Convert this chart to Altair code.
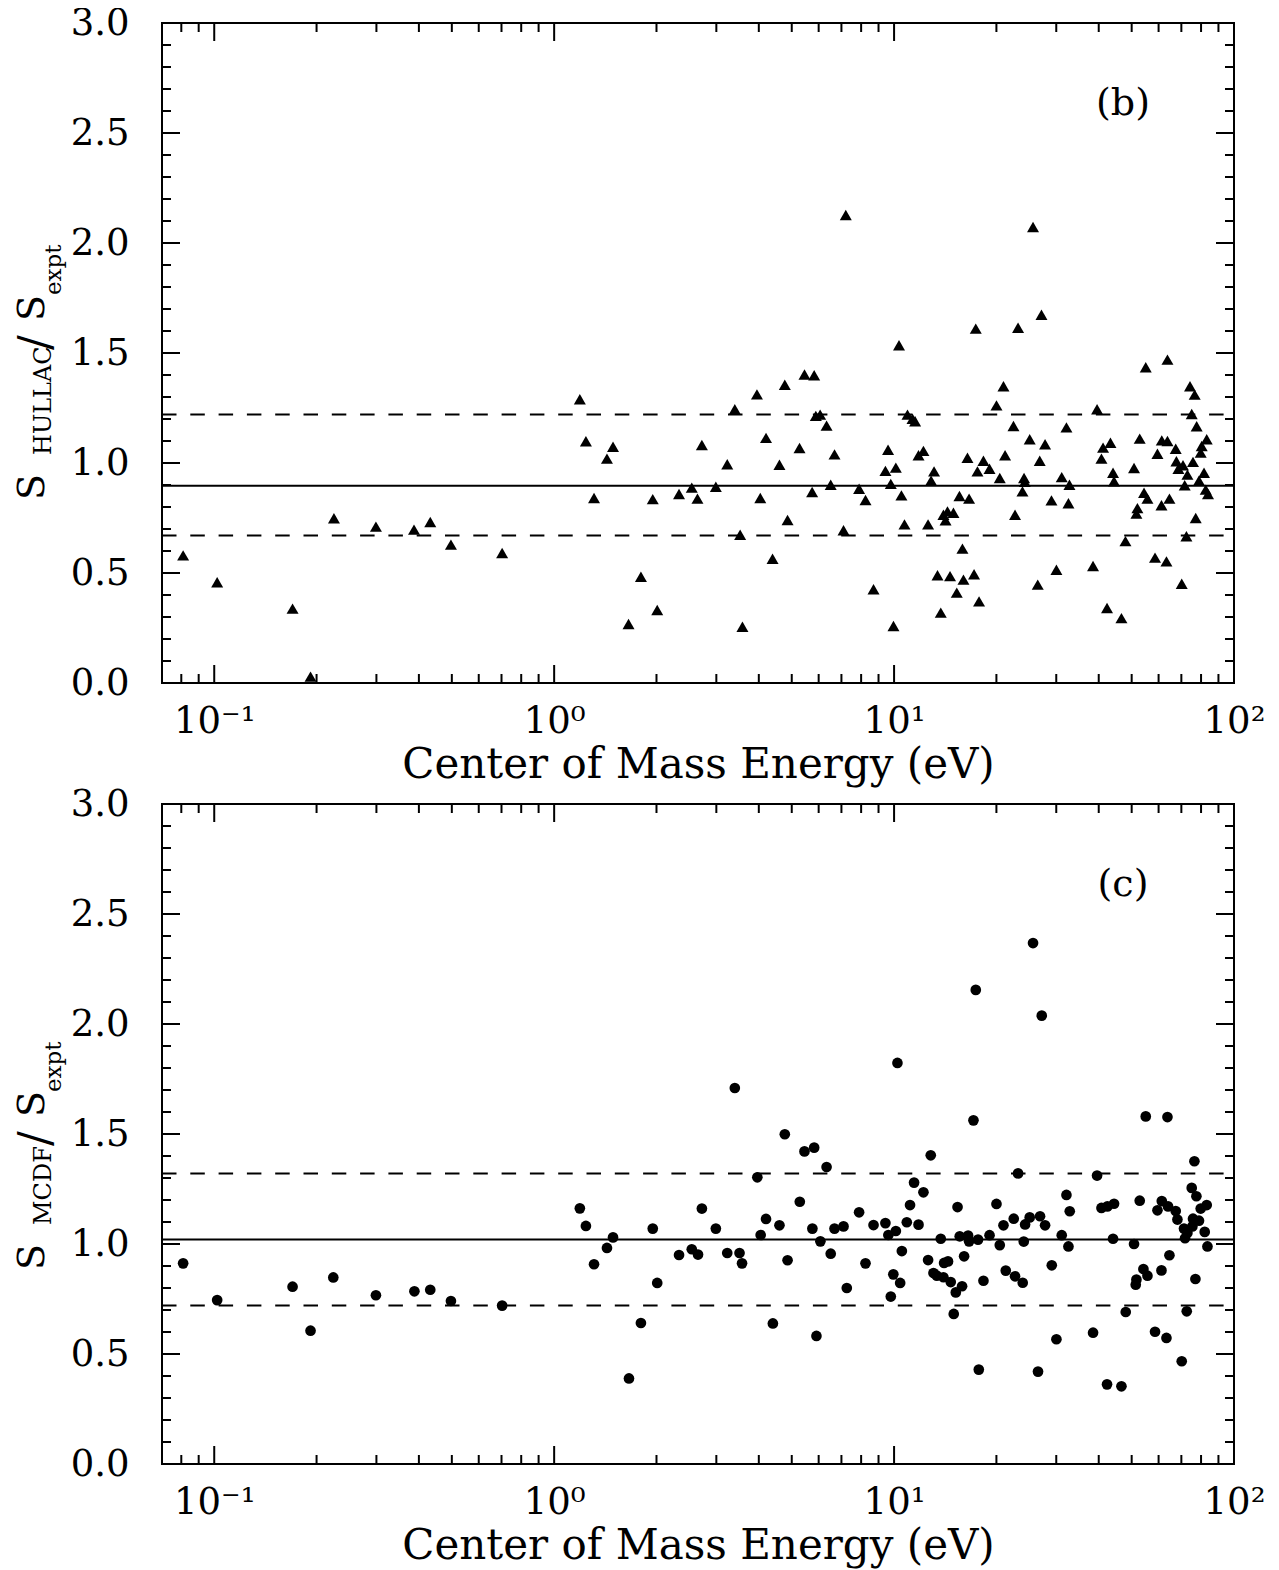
import altair as alt
import pandas as pd

FONT = "DejaVu Serif"

# ---------------- data ----------------
# Panel (b): S_HULLAC / S_expt  (energy in eV, ratio)
E_HULLAC = [
    0.081, 0.102, 0.170, 0.192, 0.225, 0.299, 0.387, 0.432, 0.497, 0.703,
    1.19, 1.24, 1.49, 1.43, 1.31, 1.80, 1.655, 2.01, 1.95, 2.33,
    2.54, 2.64, 2.72, 2.99, 3.23, 3.40, 3.525, 3.58, 3.95, 4.04,
    4.20, 4.39, 4.60, 4.77, 4.86, 5.27, 5.45, 5.82, 5.74, 5.885,
    6.06, 6.33, 6.51, 6.68, 7.10, 7.21, 7.89, 8.24, 8.70, 9.60,
    9.43, 10.12, 9.78, 9.96,
    25.63, 10.34, 17.39, 23.16, 27.14, 55.0, 63.71, 20.98, 20.01, 74.23,
    76.62, 10.95, 11.33, 11.53, 39.55, 75.09, 22.45, 32.14, 77.66, 25.06,
    27.81, 52.8, 61.31, 63.71, 83.12, 11.8, 12.2, 16.44, 18.32, 21.21,
    26.82, 41.19, 43.3, 40.74, 67.38, 80.35, 79.81, 59.54, 10.51, 13.11,
    12.85, 17.59, 19.09, 20.46, 24.12, 24.24, 23.86, 31.13, 32.8, 29.04,
    32.58, 44.07, 44.37, 50.8, 54.37, 55.64, 51.98, 51.63, 61.18, 64.57,
    67.7, 70.79, 68.62, 72.94, 75.75, 81.62, 71.61, 78.89, 82.56, 83.85,
    77.15, 72.44, 15.57, 16.62, 13.97, 14.36, 14.95, 14.17, 22.69, 10.73,
    12.59, 15.89, 47.93, 13.42, 14.61, 16.0, 17.19, 15.29, 17.78, 13.72,
    26.46, 30.03, 38.49, 58.57, 63.28, 70.18, 42.31, 46.65,
]
R_HULLAC = [
    0.580, 0.458, 0.338, 0.029, 0.749, 0.711, 0.697, 0.732, 0.629, 0.591,
    1.290, 1.099, 1.074, 1.020, 0.841, 0.483, 0.268, 0.332, 0.836, 0.859,
    0.888, 0.838, 1.082, 0.892, 0.994, 1.244, 0.674, 0.256, 1.312, 0.841,
    1.114, 0.565, 0.992, 1.356, 0.741, 1.068, 1.402, 1.399, 0.868, 1.214,
    1.220, 1.170, 0.901, 1.039, 0.694, 2.127, 0.883, 0.832, 0.426, 1.060,
    0.964, 0.979, 0.905, 0.259,
    2.073, 1.535, 1.611, 1.615, 1.674, 1.435, 1.470, 1.349, 1.262, 1.349,
    1.311, 1.220, 1.201, 1.190, 1.244, 1.223, 1.168, 1.162, 1.167, 1.108,
    1.085, 1.111, 1.103, 1.100, 1.108, 1.035, 1.055, 1.024, 1.010, 1.035,
    1.010, 1.070, 1.092, 1.020, 1.065, 1.077, 1.047, 1.042, 0.853, 0.962,
    0.920, 0.962, 0.974, 0.932, 0.932, 0.914, 0.871, 0.936, 0.901, 0.830,
    0.817, 0.956, 0.917, 0.977, 0.865, 0.838, 0.795, 0.770, 0.808, 0.838,
    1.008, 0.990, 0.974, 0.947, 1.005, 0.956, 0.899, 0.920, 0.879, 0.859,
    0.750, 0.667, 0.850, 0.838, 0.765, 0.780, 0.774, 0.740, 0.765, 0.721,
    0.721, 0.611, 0.645, 0.490, 0.486, 0.470, 0.494, 0.411, 0.371, 0.320,
    0.447, 0.515, 0.532, 0.570, 0.553, 0.451, 0.341, 0.295,
]

# Panel (c): S_MCDF / S_expt
E_MCDF = [
    0.081, 0.102, 0.170, 0.192, 0.224, 0.299, 0.388, 0.432, 0.497, 0.703,
    1.19, 1.24, 1.49, 1.43, 1.31, 1.80, 1.66, 2.01, 1.95, 2.33,
    2.54, 2.65, 2.72, 2.99, 3.23, 3.40, 3.51, 3.57, 3.96, 4.05,
    4.20, 4.40, 4.60, 4.77, 4.86, 5.28, 5.45, 5.82, 5.75, 5.91,
    6.07, 6.33, 6.51, 6.68, 7.10, 7.26, 7.89, 8.24, 8.70, 9.43,
    9.62, 10.12, 9.95, 9.78, 10.42, 10.54, 10.23,
    17.12, 12.82, 55.0, 63.71, 76.47, 23.16, 39.55, 11.45, 12.2, 75.09,
    77.51, 32.14, 11.14, 15.37, 20.01, 32.87, 40.74, 42.42, 44.37, 52.8,
    59.54, 61.31, 63.97, 67.38, 79.81, 83.12, 68.16, 75.75, 78.89, 10.9,
    11.8, 20.98, 22.49, 24.29, 25.06, 26.88, 27.81, 13.72, 15.6, 16.51,
    16.62, 17.66, 19.09, 20.46, 24.07, 31.13, 32.58, 44.07, 50.8, 71.27,
    72.94, 71.76, 75.44, 82.0, 83.53, 12.59, 14.03, 14.41, 16.07, 13.06,
    13.36, 13.97, 14.68, 15.19, 15.85, 18.32, 21.31, 22.69, 23.9, 29.1,
    14.98, 17.75, 26.51, 30.03, 38.49, 42.31, 46.65, 48.03, 54.14, 55.64,
    51.63, 51.39, 61.18, 64.57, 58.57, 63.28, 70.18, 72.61, 77.0,
    25.63, 17.39, 27.19,
]
R_MCDF = [
    0.912, 0.745, 0.806, 0.606, 0.848, 0.767, 0.785, 0.792, 0.741, 0.720,
    1.162, 1.082, 1.030, 0.982, 0.908, 0.641, 0.389, 0.823, 1.070, 0.950,
    0.976, 0.952, 1.161, 1.070, 0.959, 1.709, 0.959, 0.912, 1.303, 1.041,
    1.114, 0.639, 1.085, 1.499, 0.926, 1.192, 1.421, 1.438, 1.070, 0.582,
    1.012, 1.350, 0.956, 1.070, 1.080, 0.800, 1.144, 0.912, 1.086, 1.095,
    1.041, 1.059, 0.862, 0.761, 0.823, 0.968, 1.823,
    1.562, 1.403, 1.580, 1.577, 1.376, 1.321, 1.311, 1.279, 1.235, 1.255,
    1.217, 1.223, 1.177, 1.168, 1.182, 1.149, 1.164, 1.171, 1.183, 1.197,
    1.153, 1.195, 1.171, 1.150, 1.161, 1.177, 1.111, 1.115, 1.106, 1.099,
    1.088, 1.085, 1.115, 1.089, 1.121, 1.126, 1.085, 1.024, 1.035, 1.038,
    1.012, 1.020, 1.040, 0.995, 1.011, 1.040, 0.989, 1.024, 1.000, 1.070,
    1.050, 1.026, 1.080, 1.055, 0.989, 0.927, 0.914, 0.921, 0.944, 0.868,
    0.856, 0.849, 0.827, 0.780, 0.808, 0.833, 0.879, 0.853, 0.824, 0.903,
    0.682, 0.429, 0.420, 0.567, 0.597, 0.362, 0.353, 0.691, 0.886, 0.856,
    0.838, 0.815, 0.880, 0.949, 0.601, 0.573, 0.467, 0.694, 0.841,
    2.368, 2.155, 2.038,
]

# reference lines (mean, upper, lower)
LINES_HULLAC = [0.897, 1.221, 0.670]
LINES_MCDF = [1.021, 1.321, 0.720]

# axis ticks / labels
X_MAJOR = [0.1, 1, 10, 100]
X_MINOR = [0.08, 0.09, 0.2, 0.3, 0.4, 0.5, 0.6, 0.7, 0.8, 0.9,
           2, 3, 4, 5, 6, 7, 8, 9, 20, 30, 40, 50, 60, 70, 80, 90]
Y_MAJOR = [0.0, 0.5, 1.0, 1.5, 2.0, 2.5, 3.0]
Y_MINOR = [0.1, 0.2, 0.3, 0.4, 0.6, 0.7, 0.8, 0.9, 1.1, 1.2, 1.3, 1.4,
           1.6, 1.7, 1.8, 1.9, 2.1, 2.2, 2.3, 2.4, 2.6, 2.7, 2.8, 2.9]
X_LABEL_EXPR = ("datum.value < 0.5 ? '10\u207b\u00b9' : datum.value < 5 ? '10\u2070' : "
                "datum.value < 50 ? '10\u00b9' : '10\u00b2'")
X_TITLE = "Center of Mass Energy (eV)"

assert len(E_HULLAC) == len(R_HULLAC)
assert len(E_MCDF) == len(R_MCDF)

W, H = 1072, 660


def text_layer(s, x, y, fs, angle=270, align="left", baseline="alphabetic"):
    return alt.Chart(pd.DataFrame({"t": [s]})).mark_text(
        font=FONT, fontSize=fs, angle=angle, align=align, baseline=baseline, color="black"
    ).encode(text="t:N", x=alt.value(x), y=alt.value(y))


def panel(E, R, shape, size, lines, title_parts, tag):
    xs = alt.Scale(type="log", domain=[0.0702, 100], nice=False)
    ys = alt.Scale(domain=[0, 3], nice=False, zero=False)
    xaxis = alt.Axis(values=X_MAJOR, labelExpr=X_LABEL_EXPR, ticks=False, tickSize=0,
                     domain=False, grid=False, labelFont=FONT, labelFontSize=37,
                     labelColor="black", labelPadding=20, labelFlush=False,
                     labelOverlap=False, labelBound=False, title=X_TITLE, titleFont=FONT,
                     titleFontSize=42, titleFontWeight="normal", titleColor="black",
                     titlePadding=5)
    yaxis = alt.Axis(values=Y_MAJOR, format=".1f", ticks=False, tickSize=0, domain=False,
                     grid=False, labelFont=FONT, labelFontSize=37, labelColor="black",
                     labelPadding=33, labelOverlap=False, title=None)
    X = alt.X("E:Q", scale=xs, axis=xaxis)
    Y = alt.Y("R:Q", scale=ys, axis=yaxis)

    layers = []
    # points
    layers.append(alt.Chart(pd.DataFrame({"E": E, "R": R})).mark_point(
        shape=shape, filled=True, size=size, color="black", opacity=1, strokeWidth=0
    ).encode(x=X, y=Y))
    # mean line and dashed band
    layers.append(alt.Chart(pd.DataFrame({"R": lines[:1]})).mark_rule(
        color="black", strokeWidth=2).encode(y=Y, x=alt.value(0), x2=alt.value(W)))
    layers.append(alt.Chart(pd.DataFrame({"R": lines[1:]})).mark_rule(
        color="black", strokeWidth=2, strokeDash=[14.5, 13.8]
    ).encode(y=Y, x=alt.value(0), x2=alt.value(W)))
    # inward ticks on all four sides
    for vals, L in ((X_MAJOR, 18), (X_MINOR, 9)):
        d = pd.DataFrame({"E": vals})
        layers.append(alt.Chart(d).mark_rule(color="black", strokeWidth=2).encode(
            x=X, y=alt.value(H), y2=alt.value(H - L)))
        layers.append(alt.Chart(d).mark_rule(color="black", strokeWidth=2).encode(
            x=X, y=alt.value(0), y2=alt.value(L)))
    for vals, L in ((Y_MAJOR, 18), (Y_MINOR, 9)):
        d = pd.DataFrame({"R": vals})
        layers.append(alt.Chart(d).mark_rule(color="black", strokeWidth=2).encode(
            y=Y, x=alt.value(0), x2=alt.value(L)))
        layers.append(alt.Chart(d).mark_rule(color="black", strokeWidth=2).encode(
            y=Y, x=alt.value(W), x2=alt.value(W - L)))
    # y-axis title built from pieces (with subscripts)
    for s, x, y, fs in title_parts:
        layers.append(text_layer(s, x, y, fs))
    # panel tag
    layers.append(text_layer(tag, 961, 81, 38, angle=0, align="center", baseline="middle"))
    return alt.layer(*layers).properties(width=W, height=H)


TITLE_B = [("S", -118, 477, 38), ("HULLAC", -111, 432, 24), ("/", -112, 327, 44),
           ("S", -118, 298, 38), ("expt", -101, 272, 23)]
TITLE_C = [("S", -118, 466, 38), ("MCDF", -111, 421, 24), ("/", -112, 342, 44),
           ("S", -118, 313, 38), ("expt", -101, 288, 23)]

top = panel(E_HULLAC, R_HULLAC, "triangle-up", 144, LINES_HULLAC, TITLE_B, "(b)")
bottom = panel(E_MCDF, R_MCDF, "circle", 114, LINES_MCDF, TITLE_C, "(c)")

chart = alt.vconcat(top, bottom, spacing=-2).properties(
    padding={"left": 5, "top": -5, "right": 5, "bottom": 5},
    background="white",
).configure_view(stroke="black", strokeWidth=2)

chart.save("out.html", embed_options={"renderer": "svg", "actions": False})
